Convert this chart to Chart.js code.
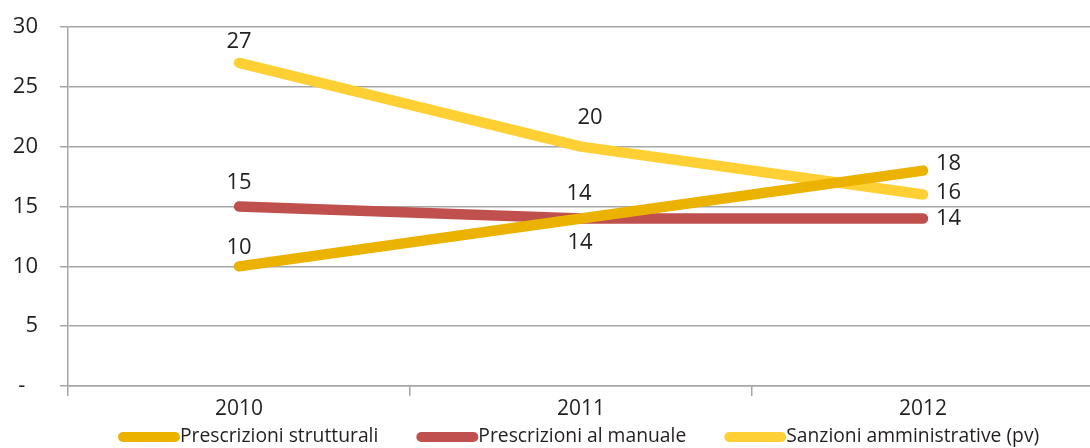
<!DOCTYPE html>
<html>
<head>
<meta charset="utf-8">
<script src="https://cdn.jsdelivr.net/npm/chart.js@4/dist/chart.umd.min.js"></script>
<style>
  html, body { margin: 0; padding: 0; background: #fff; overflow: hidden; }
  #wrap { width: 1090px; height: 448px; overflow: hidden; position: relative; }
  #box { width: 1100px; height: 448px; position: absolute; left: 0; top: 0; }
</style>
</head>
<body>
<div id="wrap"><div id="box"><canvas id="c"></canvas></div></div>
<script>
const years = ['2010', '2011', '2012'];
const strutturali = [10, 14, 18];
const manuale = [15, 14, 14];
const sanzioni = [27, 20, 16];
const seriesNames = ['Prescrizioni strutturali', 'Prescrizioni al manuale', 'Sanzioni amministrative (pv)'];

const FONT = '"Open Sans", "DejaVu Sans", sans-serif';

// where each value label sits relative to its point: [align, dx, dy]
const labelPlacement = [
  [['center', 0, -19], ['center', -1, 24], ['left', 13, -7]],
  [['center', 0, -24], ['center', -2, -25], ['left', 13, 0]],
  [['center', 0, -21], ['center', 9, -29], ['left', 13, -2]]
];

const valueLabels = {
  id: 'valueLabels',
  afterDatasetsDraw(chart) {
    const ctx = chart.ctx;
    ctx.save();
    ctx.font = '22px ' + FONT;
    ctx.fillStyle = '#231f20';
    ctx.textBaseline = 'middle';
    chart.data.datasets.forEach((ds, di) => {
      const meta = chart.getDatasetMeta(di);
      meta.data.forEach((pt, i) => {
        const [align, dx, dy] = labelPlacement[di][i];
        ctx.textAlign = align;
        ctx.fillText(String(ds.data[i]), pt.x + dx, pt.y + dy);
      });
    });
    ctx.restore();
  }
};

// legend drawn as rounded line swatches followed by the series name
const lineLegend = {
  id: 'lineLegend',
  afterDraw(chart) {
    const ctx = chart.ctx;
    ctx.save();
    ctx.font = '19.3px ' + FONT;
    ctx.textBaseline = 'middle';
    ctx.textAlign = 'left';
    const y = 437;
    let x = 118;
    chart.data.datasets.forEach((ds) => {
      ctx.strokeStyle = ds.borderColor;
      ctx.lineWidth = 10;
      ctx.lineCap = 'round';
      ctx.beginPath();
      ctx.moveTo(x + 5, y);
      ctx.lineTo(x + 57, y);
      ctx.stroke();
      ctx.fillStyle = '#231f20';
      ctx.fillText(ds.label, x + 62, y);
      x += 62 + ctx.measureText(ds.label).width + 38;
    });
    ctx.restore();
  }
};

new Chart(document.getElementById('c'), {
  type: 'line',
  data: {
    labels: years,
    datasets: [
      { label: seriesNames[0], data: strutturali, borderColor: '#ebb300' },
      { label: seriesNames[1], data: manuale, borderColor: '#c0504d' },
      { label: seriesNames[2], data: sanzioni, borderColor: '#ffd034' }
    ].map(d => Object.assign(d, {
      borderWidth: 10.5, borderCapStyle: 'round', borderJoinStyle: 'round',
      pointRadius: 0, pointHoverRadius: 0, tension: 0, fill: false
    }))
  },
  options: {
    responsive: true,
    maintainAspectRatio: false,
    animation: false,
    events: [],
    layout: { padding: { top: 27, right: 6, bottom: 22, left: 0 } },
    plugins: { legend: { display: false }, tooltip: { enabled: false } },
    scales: {
      x: {
        offset: true,
        afterFit(s) { s.height = 40; },
        grid: { offset: true, drawOnChartArea: false, drawTicks: true, tickLength: 10, color: '#a6a6a6', lineWidth: 1.5 },
        border: { color: '#a6a6a6', width: 1.5 },
        ticks: { color: '#231f20', font: { family: FONT, size: 21 }, padding: 0, maxRotation: 0 }
      },
      y: {
        min: 0, max: 30,
        afterFit(s) { s.width = 68; },
        grid: { color: '#a6a6a6', lineWidth: 1.5, tickLength: 8 },
        border: { color: '#a6a6a6', width: 1.5 },
        ticks: {
          stepSize: 5, color: '#231f20', font: { family: FONT, size: 22, lineHeight: 0.2 }, padding: 22,
          // zero is shown as a dash, sitting under the tens digit
          callback: v => v === 0 ? '-\u2007' : v
        }
      }
    }
  },
  plugins: [valueLabels, lineLegend]
});
</script>
</body>
</html>
